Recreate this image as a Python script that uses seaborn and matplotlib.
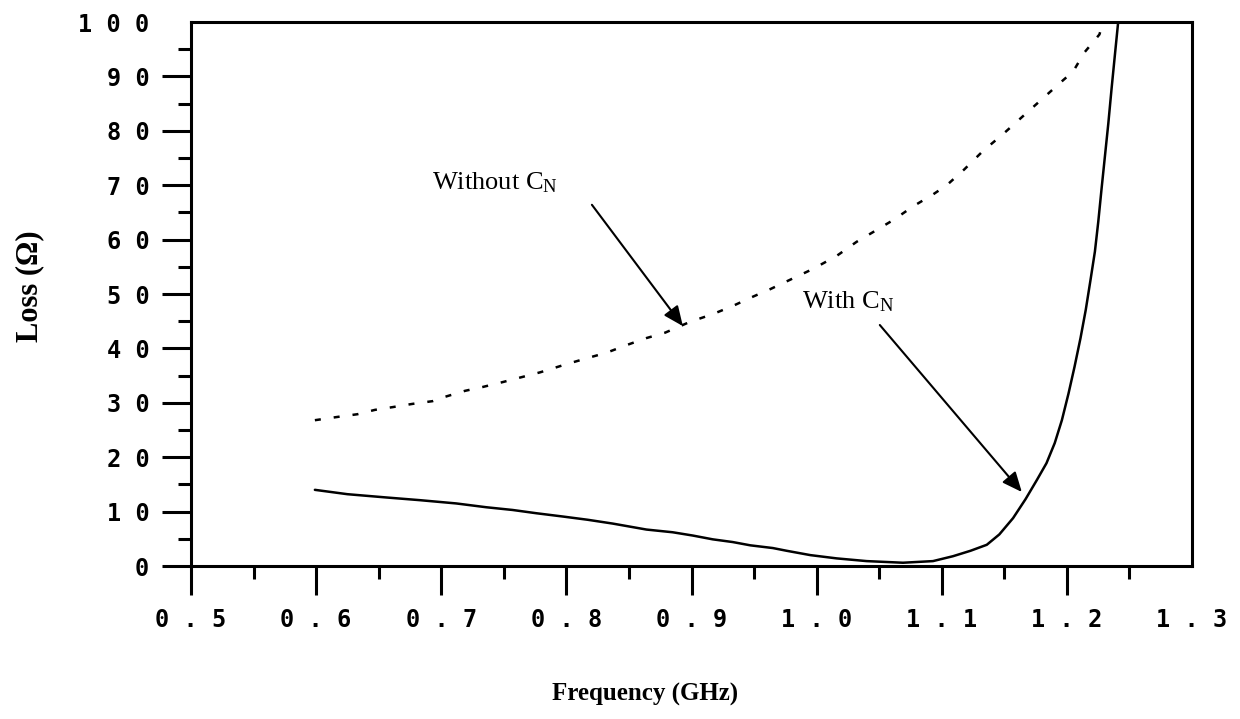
import matplotlib
matplotlib.use("Agg")
import matplotlib.pyplot as plt
import seaborn as sns
import numpy as np
import pandas as pd

# ---- data ----
without_x = [0.599, 0.617, 0.633, 0.647, 0.661, 0.677, 0.693, 0.703, 0.719, 0.733, 0.749,
             0.779, 0.800, 0.818, 0.832, 0.848, 0.864, 0.879, 0.899, 0.917, 0.933, 0.948,
             0.963, 0.997, 1.016, 1.032, 1.046, 1.062, 1.077, 1.093, 1.104, 1.118, 1.133,
             1.149, 1.164, 1.180, 1.197, 1.205, 1.214, 1.226, 1.229]
without_y = [26.8, 27.4, 27.9, 28.7, 29.2, 29.8, 30.3, 31.1, 32.2, 32.9, 33.8,
             35.6, 37.1, 38.3, 39.2, 40.6, 41.9, 42.9, 44.9, 46.3, 47.8, 49.4,
             50.9, 54.6, 57.0, 59.6, 61.5, 63.7, 66.1, 68.3, 70.0, 72.9, 76.3,
             79.4, 82.5, 85.8, 89.3, 90.9, 94.4, 97.7, 100.0]

with_x = [0.599, 0.625, 0.656, 0.683, 0.712, 0.736, 0.757, 0.776, 0.797, 0.817, 0.837,
          0.864, 0.885, 0.901, 0.917, 0.933, 0.947, 0.965, 0.976, 0.995, 1.016, 1.040,
          1.069, 1.093, 1.109, 1.123, 1.136, 1.146, 1.157, 1.167, 1.176, 1.1837, 1.1903,
          1.1960, 1.2013, 1.2061, 1.2109, 1.2151, 1.2189, 1.2224, 1.2251, 1.2277, 1.2304,
          1.2331, 1.2357, 1.2384, 1.241]
with_y = [14.0, 13.2, 12.6, 12.1, 11.5, 10.8, 10.3, 9.7, 9.1, 8.5, 7.8,
          6.7, 6.2, 5.6, 4.9, 4.4, 3.8, 3.3, 2.8, 2.0, 1.4, 0.9,
          0.6, 0.9, 1.8, 2.8, 3.9, 5.8, 8.8, 12.3, 15.8, 18.9, 22.6,
          26.8, 31.7, 36.6, 41.9, 47.1, 52.6, 57.8, 63.3, 69.3, 75.3,
          81.3, 87.7, 94.0, 100.0]

x_ticks = [0.5, 0.6, 0.7, 0.8, 0.9, 1.0, 1.1, 1.2, 1.3]
x_tick_labels = ["0.5", "0.6", "0.7", "0.8", "0.9", "1.0", "1.1", "1.2", "1.3"]
y_ticks = [0, 10, 20, 30, 40, 50, 60, 70, 80, 90, 100]
y_tick_labels = ["0", "10", "20", "30", "40", "50", "60", "70", "80", "90", "100"]

x_label = "Frequency (GHz)"
y_label = "Loss (\u03a9)"
label_without = r"Without C$_\mathrm{N}$"
label_with = r"With C$_\mathrm{N}$"

# ---- style ----
sns.set_style("ticks")
plt.rcParams["font.family"] = ["DejaVu Sans"]
plt.rcParams["text.color"] = "black"
plt.rcParams["axes.labelcolor"] = "black"
plt.rcParams["xtick.color"] = "black"
plt.rcParams["ytick.color"] = "black"
plt.rcParams["mathtext.fontset"] = "custom"
plt.rcParams["mathtext.rm"] = "Liberation Serif"
plt.rcParams["mathtext.it"] = "Liberation Serif:italic"
plt.rcParams["mathtext.bf"] = "Liberation Serif:bold"

fig = plt.figure(figsize=(12.4, 7.19), dpi=100)
ax = fig.add_axes([191 / 1240, 1 - 566 / 719, (1192 - 191) / 1240, (566 - 22) / 719])

df_wo = pd.DataFrame({"x": without_x, "y": without_y})
df_w = pd.DataFrame({"x": with_x, "y": with_y})

sns.lineplot(data=df_wo, x="x", y="y", ax=ax, color="black", linewidth=1.8,
             linestyle=(0, (2.4, 5.2)), sort=False)
sns.lineplot(data=df_w, x="x", y="y", ax=ax, color="black", linewidth=1.8,
             sort=False)

ax.set_xlim(0.5, 1.3)
ax.set_ylim(0, 100)

spaced = lambda s: " ".join(list(s))
ax.set_xticks(x_ticks, labels=[spaced(t) for t in x_tick_labels])
ax.set_yticks(y_ticks, labels=[spaced(t) for t in y_tick_labels])
ax.set_xticks(np.arange(0.55, 1.3, 0.1), minor=True)
ax.set_yticks(np.arange(5, 100, 10), minor=True)

for lab in ax.get_xticklabels() + ax.get_yticklabels():
    lab.set_fontfamily("DejaVu Sans Mono")
    lab.set_fontweight("bold")
    lab.set_fontsize(17)
    lab.set_color("black")

ax.tick_params(axis="both", which="major", direction="out", length=21, width=2.2,
               color="black", pad=9)
ax.tick_params(axis="both", which="minor", direction="out", length=9.5, width=2.2,
               color="black")
# no tick marks at the upper ends (they sit on the frame)
ax.xaxis.get_major_ticks()[-1].tick1line.set_visible(False)
ax.yaxis.get_major_ticks()[-1].tick1line.set_visible(False)

for sp in ax.spines.values():
    sp.set_visible(True)
    sp.set_linewidth(2.2)
    sp.set_color("black")

ax.set_xlabel(x_label, fontfamily="Liberation Serif", fontweight="bold", fontsize=18,
              color="black")
ax.set_ylabel(y_label, fontfamily="Liberation Serif", fontweight="bold", fontsize=22,
              color="black")
ax.xaxis.set_label_coords((645 - 191) / 1001, (566 - 683) / 544)
ax.yaxis.set_label_coords((44 - 191) / 1001, (566 - 286) / 544)

# ---- annotations ----
ax.text(0.6926, 69.3, label_without, fontfamily="Liberation Serif", fontsize=19,
        va="baseline", ha="left", color="black")
ax.text(0.988, 47.4, label_with, fontfamily="Liberation Serif", fontsize=19,
        va="baseline", ha="left", color="black")
arrow = dict(arrowstyle="-|>,head_length=0.8,head_width=0.35", color="black",
             lw=1.5, mutation_scale=15, shrinkA=0, shrinkB=0)
ax.annotate("", xy=(0.8931, 44.1), xytext=(0.8204, 66.4), arrowprops=arrow)
ax.annotate("", xy=(1.164, 13.6), xytext=(1.0505, 44.3), arrowprops=arrow)

fig.savefig("out.png", dpi=100)
